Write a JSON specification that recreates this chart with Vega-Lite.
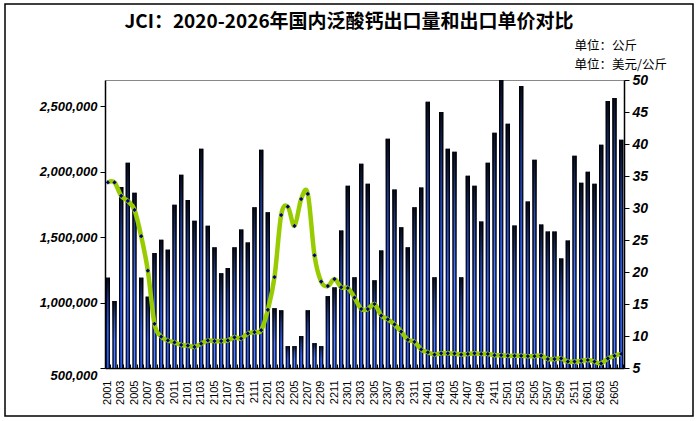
{
  "$schema": "https://vega.github.io/schema/vega-lite/v6.json",
  "autosize": {"type": "none"},
  "width": 688,
  "height": 412,
  "padding": {"left": 5, "top": 4, "right": 5, "bottom": 5},
  "background": "white",
  "title": {
    "text": "JCI：2020-2026年国内泛酸钙出口量和出口单价对比",
    "font": "Noto Sans CJK SC",
    "fontSize": 19,
    "fontWeight": "bold",
    "color": "#000000",
    "anchor": "middle",
    "offset": -28
  },
  "data": {
    "values": [
      {"m": "2001", "v": 1190000, "p": 34.0},
      {"m": "2002", "v": 1012000, "p": 34.0},
      {"m": "2003", "v": 1883000, "p": 31.9},
      {"m": "2004", "v": 2068000, "p": 31.1},
      {"m": "2005", "v": 1839000, "p": 29.7},
      {"m": "2006", "v": 1190000, "p": 25.6},
      {"m": "2007", "v": 1045000, "p": 20.2},
      {"m": "2008", "v": 1378000, "p": 11.9},
      {"m": "2009", "v": 1480000, "p": 9.9},
      {"m": "2010", "v": 1404000, "p": 9.3},
      {"m": "2011", "v": 1748000, "p": 9.0},
      {"m": "2012", "v": 1977000, "p": 8.6},
      {"m": "2101", "v": 1783000, "p": 8.5},
      {"m": "2102", "v": 1625000, "p": 8.3},
      {"m": "2103", "v": 2175000, "p": 8.8},
      {"m": "2104", "v": 1587000, "p": 9.3},
      {"m": "2105", "v": 1422000, "p": 9.2},
      {"m": "2106", "v": 1224000, "p": 9.2},
      {"m": "2107", "v": 1264000, "p": 9.3},
      {"m": "2108", "v": 1422000, "p": 9.8},
      {"m": "2109", "v": 1558000, "p": 9.6},
      {"m": "2110", "v": 1459000, "p": 10.4},
      {"m": "2111", "v": 1727000, "p": 10.6},
      {"m": "2112", "v": 2167000, "p": 10.9},
      {"m": "2201", "v": 1689000, "p": 14.1},
      {"m": "2202", "v": 957000, "p": 19.2},
      {"m": "2203", "v": 941000, "p": 28.9},
      {"m": "2204", "v": 667000, "p": 30.2},
      {"m": "2205", "v": 667000, "p": 27.2},
      {"m": "2206", "v": 744000, "p": 31.4},
      {"m": "2207", "v": 941000, "p": 32.2},
      {"m": "2208", "v": 690000, "p": 22.6},
      {"m": "2209", "v": 667000, "p": 18.5},
      {"m": "2210", "v": 1049000, "p": 17.8},
      {"m": "2211", "v": 1116000, "p": 18.9},
      {"m": "2212", "v": 1550000, "p": 17.6},
      {"m": "2301", "v": 1893000, "p": 17.5},
      {"m": "2302", "v": 1193000, "p": 16.0},
      {"m": "2303", "v": 2060000, "p": 14.2},
      {"m": "2304", "v": 1908000, "p": 14.2},
      {"m": "2305", "v": 1170000, "p": 15.0},
      {"m": "2306", "v": 1398000, "p": 13.2},
      {"m": "2307", "v": 2251000, "p": 12.6},
      {"m": "2308", "v": 1863000, "p": 11.8},
      {"m": "2309", "v": 1575000, "p": 10.7},
      {"m": "2310", "v": 1422000, "p": 9.4},
      {"m": "2311", "v": 1727000, "p": 9.1},
      {"m": "2312", "v": 1878000, "p": 7.9},
      {"m": "2401", "v": 2533000, "p": 7.45},
      {"m": "2402", "v": 1193000, "p": 7.1},
      {"m": "2403", "v": 2456000, "p": 7.3},
      {"m": "2404", "v": 2175000, "p": 7.3},
      {"m": "2405", "v": 2152000, "p": 7.25},
      {"m": "2406", "v": 1193000, "p": 7.1},
      {"m": "2407", "v": 1969000, "p": 7.2},
      {"m": "2408", "v": 1893000, "p": 7.3},
      {"m": "2409", "v": 1620000, "p": 7.2},
      {"m": "2410", "v": 2068000, "p": 7.2},
      {"m": "2411", "v": 2298000, "p": 7.0},
      {"m": "2412", "v": 2700000, "p": 7.0},
      {"m": "2501", "v": 2366000, "p": 6.9},
      {"m": "2502", "v": 1589000, "p": 6.9},
      {"m": "2503", "v": 2654000, "p": 6.9},
      {"m": "2504", "v": 1771000, "p": 6.85},
      {"m": "2505", "v": 2091000, "p": 6.85},
      {"m": "2506", "v": 1596000, "p": 6.95},
      {"m": "2507", "v": 1543000, "p": 6.4},
      {"m": "2508", "v": 1543000, "p": 6.4},
      {"m": "2509", "v": 1337000, "p": 6.5},
      {"m": "2510", "v": 1474000, "p": 6.0},
      {"m": "2511", "v": 2121000, "p": 6.0},
      {"m": "2512", "v": 1916000, "p": 6.1},
      {"m": "2601", "v": 2000000, "p": 6.25},
      {"m": "2602", "v": 1908000, "p": 6.0},
      {"m": "2603", "v": 2205000, "p": 5.7},
      {"m": "2604", "v": 2540000, "p": 6.5},
      {"m": "2605", "v": 2563000, "p": 6.9},
      {"m": "2606", "v": 2243000, "p": 7.2}
    ]
  },
  "layer": [
    {
      "encoding": {
        "x": {
          "field": "m",
          "type": "ordinal",
          "sort": null,
          "scale": {"range": [100, 619], "paddingInner": 0.35, "paddingOuter": 0.1},
          "axis": {
            "title": null,
            "orient": "bottom",
            "offset": -48,
            "labels": false,
            "tickBand": "extent",
            "tickSize": -4,
            "tickColor": "#000000",
            "domainColor": "#000000",
            "domainWidth": 1.5
          }
        },
        "y": {
          "field": "v",
          "type": "quantitative",
          "scale": {"domain": [500000, 2700000], "range": [364, 76], "zero": false, "nice": false},
          "axis": {
            "offset": -100,
            "values": [500000, 1000000, 1500000, 2000000, 2500000],
            "format": ",d",
            "grid": false,
            "labelFont": "Liberation Sans",
            "labelFontSize": 13,
            "labelFontWeight": "bold",
            "labelFontStyle": "italic",
            "labelColor": "#000000",
            "labelPadding": 3,
            "labelOffset": {"condition": {"test": "datum.value == 500000", "value": 7}, "value": 0},
            "tickSize": 5,
            "tickColor": "#000000",
            "domainColor": "#000000",
            "domainWidth": 1.5,
            "title": "单位：公斤",
            "titleAngle": 0,
            "titleX": 469,
            "titleY": 41,
            "titleAlign": "left",
            "titleBaseline": "middle",
            "titleFont": "Noto Sans CJK SC",
            "titleFontSize": 12.5,
            "titleFontWeight": "normal",
            "titleColor": "#000000"
          }
        },
        "y2": {"datum": 500000}
      },
      "layer": [
        {
          "mark": {
            "type": "bar",
            "color": {
              "gradient": "linear",
              "x1": 0, "y1": 0, "x2": 1, "y2": 0,
              "stops": [
                {"offset": 0, "color": "#000000"},
                {"offset": 0.2, "color": "#061040"},
                {"offset": 0.4, "color": "#2a55d8"},
                {"offset": 0.5, "color": "#4a80ff"},
                {"offset": 0.6, "color": "#2a55d8"},
                {"offset": 0.8, "color": "#061040"},
                {"offset": 1, "color": "#000000"}
              ]
            }
          }
        },
        {
          "mark": {
            "type": "bar",
            "color": {
              "gradient": "linear",
              "x1": 0, "y1": 0, "x2": 0, "y2": 1,
              "stops": [
                {"offset": 0, "color": "rgba(0,0,0,0.9)"},
                {"offset": 0.25, "color": "rgba(0,0,0,0.4)"},
                {"offset": 0.6, "color": "rgba(0,0,0,0)"},
                {"offset": 1, "color": "rgba(0,0,0,0)"}
              ]
            }
          }
        }
      ]
    },
    {
      "mark": {"type": "line", "color": "#99cc00", "strokeWidth": 4.5, "interpolate": "cardinal"},
      "encoding": {
        "x": {
          "field": "m",
          "type": "ordinal",
          "sort": null,
          "axis": {
            "title": null,
            "orient": "bottom",
            "offset": -48,
            "values": ["2001", "2003", "2005", "2007", "2009", "2011", "2101", "2103", "2105", "2107", "2109", "2111", "2201", "2203", "2205", "2207", "2209", "2211", "2301", "2303", "2305", "2307", "2309", "2311", "2401", "2403", "2405", "2407", "2409", "2411", "2501", "2503", "2505", "2507", "2509", "2511", "2601", "2603", "2605"],
            "labelAngle": 270,
            "labelFont": "Liberation Sans",
            "labelFontSize": 11,
            "labelColor": "#000000",
            "labelOverlap": false,
            "labelPadding": 12,
            "ticks": false,
            "domain": false
          }
        },
        "y": {
          "field": "p",
          "type": "quantitative",
          "scale": {"domain": [5, 50], "range": [364, 76], "zero": false, "nice": false},
          "axis": {
            "orient": "right",
            "offset": -69,
            "values": [5, 10, 15, 20, 25, 30, 35, 40, 45, 50],
            "grid": false,
            "labelFont": "Liberation Sans",
            "labelFontSize": 14,
            "labelFontWeight": "bold",
            "labelFontStyle": "italic",
            "labelColor": "#000000",
            "labelPadding": 3,
            "tickSize": 5,
            "tickColor": "#000000",
            "domainColor": "#000000",
            "domainWidth": 1.5,
            "title": "单位：美元/公斤",
            "titleAngle": 0,
            "titleX": -50,
            "titleY": 60,
            "titleAlign": "left",
            "titleBaseline": "middle",
            "titleFont": "Noto Sans CJK SC",
            "titleFontSize": 12.5,
            "titleFontWeight": "normal",
            "titleColor": "#000000"
          }
        }
      }
    },
    {
      "mark": {"type": "point", "shape": "diamond", "filled": true, "size": 18, "color": "#000080", "opacity": 1},
      "encoding": {
        "x": {
          "field": "m",
          "type": "ordinal",
          "sort": null,
          "axis": {
            "title": null,
            "orient": "top",
            "offset": -76,
            "labels": false,
            "ticks": false,
            "domainColor": "#888888",
            "domainWidth": 1
          }
        },
        "y": {
          "field": "p",
          "type": "quantitative",
          "scale": {"domain": [5, 50], "range": [364, 76], "zero": false, "nice": false},
          "axis": null
        }
      }
    }
  ],
  "resolve": {"scale": {"y": "independent"}, "axis": {"x": "independent"}},
  "config": {"view": {"stroke": "#000000", "strokeWidth": 1.5}}
}
